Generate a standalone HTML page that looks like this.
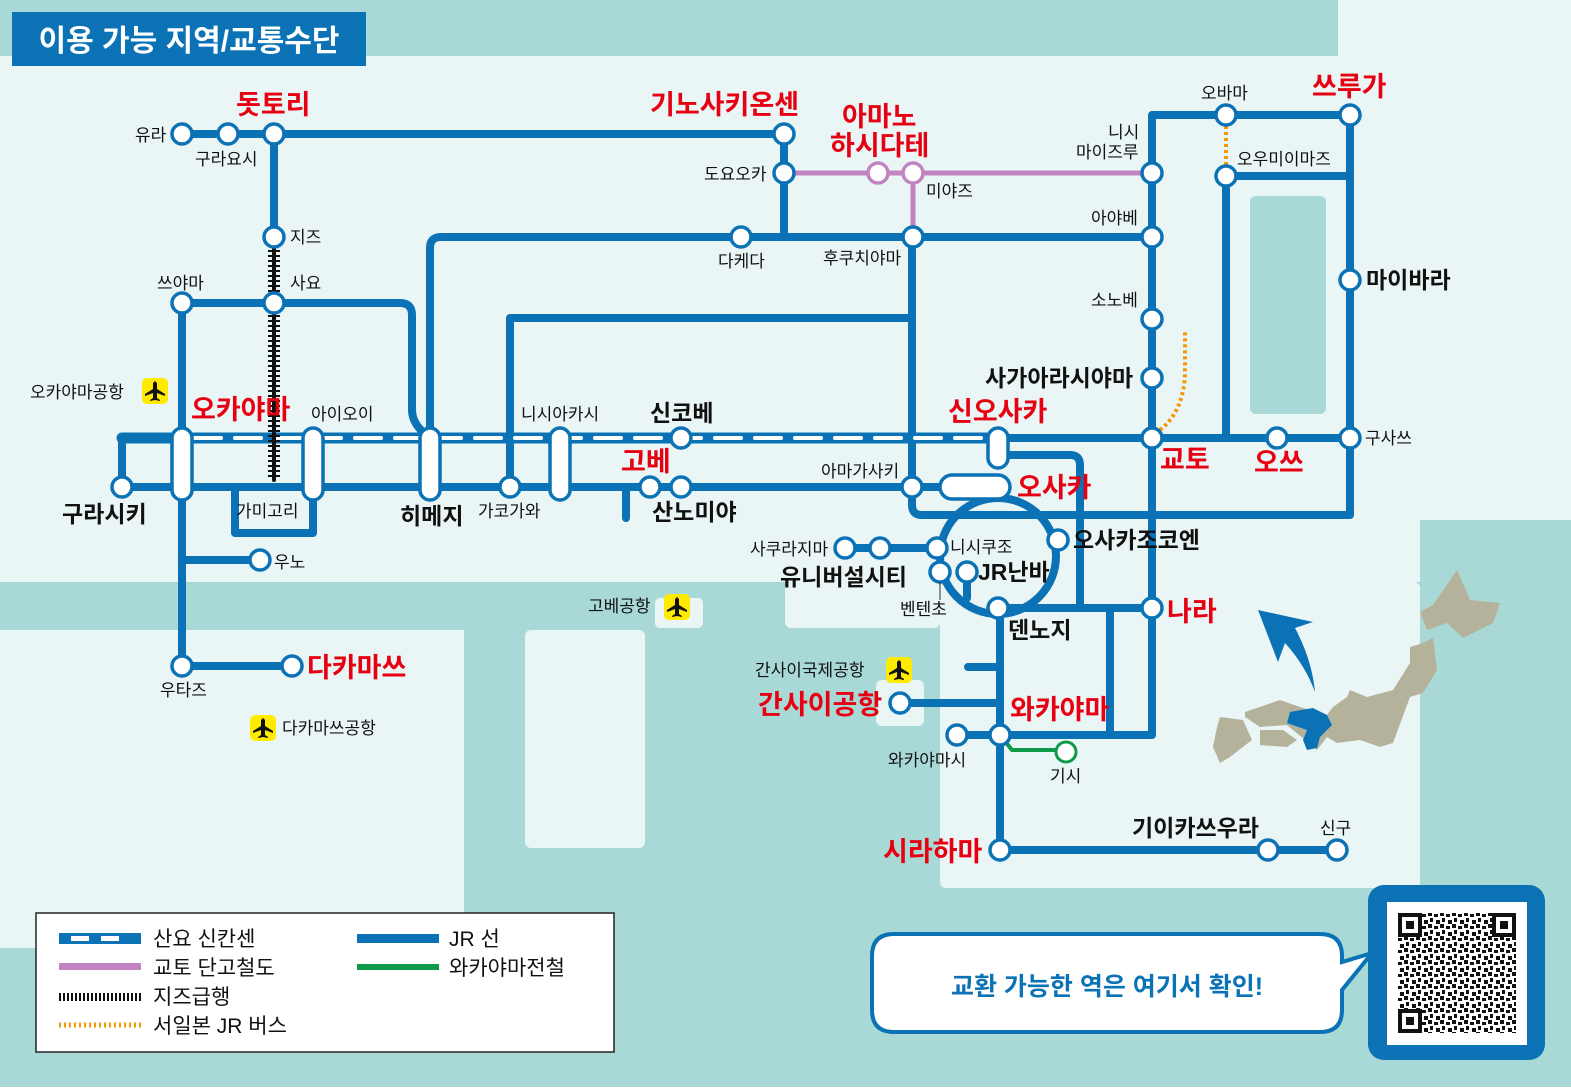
<!DOCTYPE html>
<html><head><meta charset="utf-8"><style>
html,body{margin:0;padding:0}
body{width:1571px;height:1087px;overflow:hidden;font-family:"Liberation Sans","Noto Sans CJK KR",sans-serif}
svg text{font-family:"Liberation Sans","Noto Sans CJK KR",sans-serif}
</style></head><body>
<svg width="1571" height="1087" viewBox="0 0 1571 1087" xmlns="http://www.w3.org/2000/svg">
<defs>
<pattern id="qr" width="12" height="12" patternUnits="userSpaceOnUse">
<rect width="12" height="12" fill="#fff"/>
<rect x="0" y="0" width="4" height="4" fill="#111"/><rect x="6" y="2" width="4" height="3" fill="#111"/>
<rect x="2" y="6" width="3" height="4" fill="#111"/><rect x="8" y="8" width="4" height="4" fill="#111"/>
</pattern>
<g id="pl"><rect x="-13" y="-13" width="26" height="26" rx="5" fill="#ffea00"/>
<path d="M0 -10L2 -8V-2L10 3V5L2 2V7L5 9V10L0 9L-5 10V9L-2 7V2L-10 5V3L-2 -2V-8Z" fill="#111"/></g>
</defs>
<rect width="1571" height="1087" fill="#eaf6f5"/>
<rect x="0" y="0" width="1338" height="56" fill="#a8d9d6"/>
<rect x="1420" y="520" width="151" height="567" fill="#a8d9d6"/>
<rect x="0" y="582" width="1420" height="505" fill="#a8d9d6"/>
<rect x="0" y="630" width="464" height="318" fill="#eaf6f5"/>
<rect x="525" y="630" width="120" height="218" rx="6" fill="#eaf6f5"/>
<rect x="655" y="598" width="48" height="30" rx="5" fill="#eaf6f5"/>
<rect x="785" y="582" width="155" height="46" rx="6" fill="#eaf6f5"/>
<rect x="940" y="582" width="480" height="306" rx="6" fill="#eaf6f5"/>
<rect x="876" y="680" width="48" height="46" rx="6" fill="#eaf6f5"/>
<rect x="1250" y="196" width="76" height="218" rx="6" fill="#a8d9d6"/>

<rect x="12" y="12" width="354" height="54" fill="#0a72b5"/>
<text x="189" y="51" font-size="30" font-weight="bold" fill="#fff" text-anchor="middle">이용 가능 지역/교통수단</text>

<g fill="none" stroke-linecap="round" stroke-linejoin="round">
<g stroke="#0a72b5" stroke-width="8">
<path d="M182 134H784V237"/>
<path d="M274 134V237"/>
<path d="M430 487V248Q430 237 441 237H1152"/>
<path d="M182 303H400Q412 303 412 315V410Q412 425 430 438"/>
<path d="M182 303V666H292"/>
<path d="M182 560H260"/>
<path d="M122 438V487H1000"/>
<path d="M235 487V533H313V487"/>
<path d="M912 237V505Q912 515 922 515H1350V115H1152V735H1000"/>
<path d="M510 487V318H912"/>
<path d="M1000 438H1350"/>
<path d="M1226 176V438"/>
<path d="M1226 176H1350"/>
<path d="M1000 455H1070Q1080 455 1080 465V608"/>
<circle cx="998" cy="556" r="58"/>
<path d="M1000 608H1152"/>
<path d="M1110 608V735"/>
<path d="M1000 608V850H1337"/>
<path d="M900 703H1000"/>
<path d="M968 667H1000"/>
<path d="M957 735H1000"/>
<path d="M845 548H937"/>
<path d="M967 572V598"/>
<path d="M626 487V518"/>
</g>
<path d="M122 438H1000" stroke="#0a72b5" stroke-width="11"/>
<path d="M195 438H1000" stroke="#fff" stroke-width="4" stroke-dasharray="26 14"/>
<path d="M784 173H1152M913 173V237" stroke="#c184c1" stroke-width="5"/>
<path d="M1000 735L1012 750H1066" stroke="#0e9a48" stroke-width="4"/>
<path d="M274 245V480" stroke="#111" stroke-width="4"/>
<path d="M274 245V480" stroke="#111" stroke-width="12" stroke-dasharray="2 3" stroke-linecap="butt"/>
<path d="M1226 120V170" stroke="#f39800" stroke-width="4" stroke-dasharray="3 3" stroke-linecap="butt"/>
<path d="M1160 430Q1185 410 1185 370V330" stroke="#f39800" stroke-width="4" stroke-dasharray="3 3" stroke-linecap="butt"/>
</g>

<g fill="#fff" stroke="#0a72b5" stroke-width="3.5">
<circle cx="182" cy="134" r="10"/><circle cx="228" cy="134" r="10"/><circle cx="274" cy="134" r="10"/>
<circle cx="784" cy="134" r="10"/><circle cx="784" cy="173" r="10"/>
<circle cx="274" cy="237" r="10"/><circle cx="274" cy="303" r="10"/><circle cx="182" cy="303" r="10"/>
<circle cx="741" cy="237" r="10"/><circle cx="913" cy="237" r="10"/><circle cx="1152" cy="237" r="10"/>
<circle cx="1152" cy="173" r="10"/><circle cx="1226" cy="115" r="10"/><circle cx="1350" cy="115" r="10"/>
<circle cx="1226" cy="176" r="10"/><circle cx="1350" cy="280" r="10"/>
<circle cx="1152" cy="319" r="10"/><circle cx="1152" cy="378" r="10"/><circle cx="1152" cy="438" r="10"/>
<circle cx="1277" cy="438" r="10"/><circle cx="1350" cy="438" r="10"/>
<circle cx="122" cy="487" r="10"/><circle cx="510" cy="487" r="10"/><circle cx="650" cy="487" r="10"/>
<circle cx="681" cy="487" r="10"/><circle cx="681" cy="438" r="10"/><circle cx="912" cy="487" r="10"/>
<circle cx="260" cy="560" r="10"/><circle cx="182" cy="666" r="10"/><circle cx="292" cy="666" r="10"/>
<circle cx="845" cy="548" r="10"/><circle cx="880" cy="548" r="10"/><circle cx="937" cy="548" r="10"/>
<circle cx="940" cy="572" r="10"/><circle cx="967" cy="572" r="10"/><circle cx="1058" cy="540" r="10"/>
<circle cx="998" cy="608" r="10"/><circle cx="1152" cy="608" r="10"/>
<circle cx="900" cy="703" r="10"/><circle cx="957" cy="735" r="10"/><circle cx="1000" cy="735" r="10"/>
<circle cx="1000" cy="850" r="10"/><circle cx="1268" cy="850" r="10"/><circle cx="1337" cy="850" r="10"/>
<rect x="172" y="428" width="20" height="72" rx="10"/>
<rect x="303" y="428" width="20" height="72" rx="10"/>
<rect x="420" y="428" width="20" height="72" rx="10"/>
<rect x="550" y="428" width="20" height="72" rx="10"/>
<rect x="988" y="428" width="20" height="40" rx="10"/>
<rect x="940" y="475" width="70" height="24" rx="12"/>
</g>
<g stroke-width="3.5" fill="#fff"><circle cx="878" cy="173" r="10" stroke="#c184c1"/><circle cx="913" cy="173" r="10" stroke="#c184c1"/></g>
<circle cx="1066" cy="752" r="10" fill="#fff" stroke="#0e9a48" stroke-width="3"/>
<line x1="940" y1="582" x2="940" y2="600" stroke="#333" stroke-width="1"/>

<g font-size="17" fill="#111">
<text x="135" y="141">유라</text><text x="195" y="165">구라요시</text>
<text x="290" y="243">지즈</text><text x="290" y="289">사요</text><text x="157" y="289">쓰야마</text>
<text x="30" y="398">오카야마공항</text><text x="311" y="420">아이오이</text>
<text x="521" y="420">니시아카시</text><text x="236" y="517">가미고리</text>
<text x="478" y="517">가코가와</text><text x="274" y="568">우노</text><text x="160" y="696">우타즈</text>
<text x="282" y="734">다카마쓰공항</text><text x="704" y="180">도요오카</text><text x="926" y="197">미야즈</text>
<text x="718" y="267">다케다</text><text x="823" y="264">후쿠치야마</text>
<text x="1108" y="138">니시</text><text x="1076" y="158">마이즈루</text>
<text x="1091" y="224">아야베</text><text x="1091" y="306">소노베</text><text x="1201" y="99">오바마</text>
<text x="1237" y="165">오우미이마즈</text><text x="1365" y="444">구사쓰</text>
<text x="821" y="477">아마가사키</text><text x="750" y="555">사쿠라지마</text><text x="950" y="553">니시쿠조</text>
<text x="900" y="615">벤텐초</text><text x="588" y="612">고베공항</text><text x="755" y="676">간사이국제공항</text>
<text x="888" y="766">와카야마시</text><text x="1050" y="782">기시</text><text x="1320" y="834">신구</text>
</g>
<g font-size="23" font-weight="bold" fill="#111">
<text x="1366" y="288">마이바라</text><text x="985" y="386">사가아라시야마</text>
<text x="62" y="522">구라시키</text><text x="400" y="524">히메지</text><text x="652" y="520">산노미야</text>
<text x="650" y="421">신코베</text><text x="1073" y="548">오사카조코엔</text><text x="978" y="580">JR난바</text>
<text x="780" y="585">유니버설시티</text><text x="1008" y="638">덴노지</text><text x="1132" y="836">기이카쓰우라</text>
</g>
<g font-size="27" font-weight="bold" fill="#e60012">
<text x="236" y="114">돗토리</text><text x="650" y="114">기노사키온센</text>
<text x="842" y="126">아마노</text><text x="830" y="155">하시다테</text><text x="1312" y="96">쓰루가</text>
<text x="191" y="419">오카야마</text><text x="948" y="421">신오사카</text><text x="621" y="471">고베</text>
<text x="1017" y="497">오사카</text><text x="1160" y="469">교토</text><text x="1254" y="472">오쓰</text>
<text x="1167" y="621">나라</text><text x="307" y="677">다카마쓰</text><text x="758" y="714">간사이공항</text>
<text x="1010" y="719">와카야마</text><text x="883" y="861">시라하마</text>
</g>
<use href="#pl" x="155" y="391"/><use href="#pl" x="677" y="607"/>
<use href="#pl" x="899" y="670"/><use href="#pl" x="263" y="728"/>

<!-- Japan -->
<g fill="#b5b29c">
<path d="M1457 570L1470 600L1500 603L1493 623L1463 638L1447 623L1427 630L1420 612L1433 605Z"/>
<path d="M1433 638L1437 670L1423 693L1410 697L1393 743L1380 747L1360 740L1337 743L1327 737L1317 750L1305 740L1287 725L1260 727L1245 717L1245 712L1280 700L1300 707L1327 715L1333 707L1347 697L1350 690L1367 697L1393 690L1410 663L1410 647L1423 643Z"/>
<path d="M1220 717L1243 720L1252 740L1230 757L1220 763L1213 747L1217 727Z"/>
<path d="M1260 730L1283 730L1297 740L1287 747L1260 745Z"/>
</g>
<path d="M1290 712L1313 708L1327 715L1332 725L1320 737L1317 748L1307 750L1303 740L1307 730L1287 723Z" fill="#0a72b5"/>
<path d="M1258 610L1313 622L1295 628Q1312 660 1315 692Q1305 665 1285 643L1278 662Z" fill="#0a72b5"/>

<rect x="36" y="913" width="578" height="139" fill="#fff" stroke="#222" stroke-width="1.5"/>
<rect x="59" y="933" width="82" height="11" fill="#0a72b5"/>
<rect x="71" y="936" width="18" height="5" fill="#fff"/><rect x="101" y="936" width="18" height="5" fill="#fff"/>
<rect x="59" y="963" width="82" height="7" fill="#c184c1"/>
<line x1="59" y1="997" x2="141" y2="997" stroke="#111" stroke-width="8" stroke-dasharray="2 2"/>
<line x1="59" y1="1025" x2="141" y2="1025" stroke="#f39800" stroke-width="5" stroke-dasharray="2 3"/>
<rect x="357" y="934" width="82" height="9" fill="#0a72b5"/>
<rect x="357" y="964" width="82" height="6" fill="#0e9a48"/>
<g font-size="21" fill="#111">
<text x="153" y="946">산요 신칸센</text><text x="153" y="975">교토 단고철도</text>
<text x="153" y="1004">지즈급행</text><text x="153" y="1033">서일본 JR 버스</text>
<text x="449" y="946">JR 선</text><text x="449" y="975">와카야마전철</text>
</g>

<path d="M894 934H1320Q1342 934 1342 956V962L1372 953L1342 990V1010Q1342 1032 1320 1032H894Q872 1032 872 1010V956Q872 934 894 934Z" fill="#fff" stroke="#0a72b5" stroke-width="4"/>
<text x="1107" y="995" font-size="25" font-weight="bold" fill="#0a72b5" text-anchor="middle">교환 가능한 역은 여기서 확인!</text>
<rect x="1368" y="885" width="177" height="175" rx="16" fill="#0a72b5"/>
<rect x="1387" y="902" width="140" height="143" fill="#fff"/>
<rect x="1398" y="913" width="118" height="120" fill="url(#qr)"/>
<g fill="#fff" stroke="#111" stroke-width="4">
<rect x="1400" y="915" width="20" height="20"/><rect x="1494" y="915" width="20" height="20"/><rect x="1400" y="1011" width="20" height="20"/>
</g>
<g fill="#111"><rect x="1406" y="921" width="8" height="8"/><rect x="1500" y="921" width="8" height="8"/><rect x="1406" y="1017" width="8" height="8"/></g>
</svg>
</body></html>
